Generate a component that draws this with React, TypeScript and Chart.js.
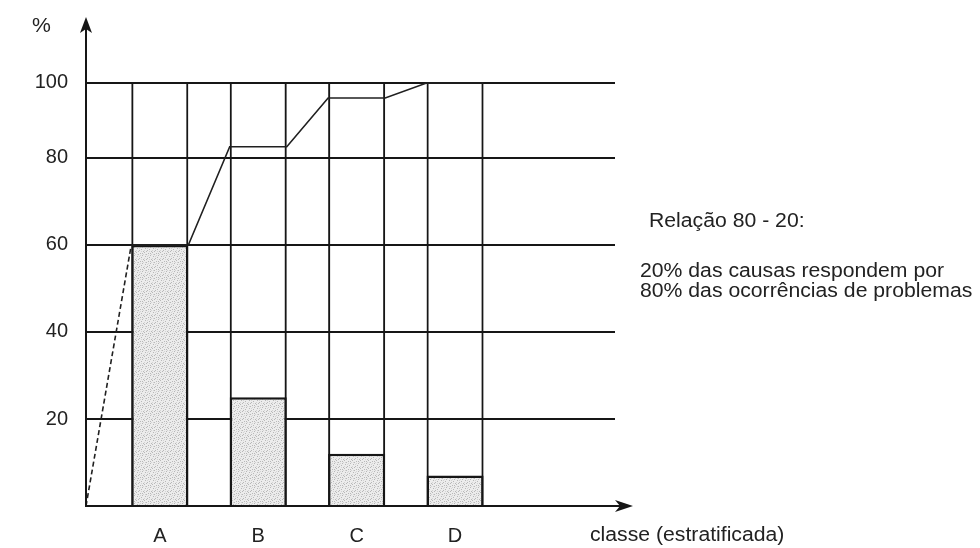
import React, { useEffect, useRef } from 'react';
import { Chart, LinearScale, registerables } from 'chart.js';

// ---- data ----
const categories = ['A', 'B', 'C', 'D'];
const shares = [60, 25, 12, 7]; // % of occurrences per class (bars)
const cumulative = [60, 83, 96, 100]; // cumulative % (Pareto line)
const frameValues = [100, 100, 100, 100]; // column frames reaching 100 %
const yTicks = [20, 40, 60, 80, 100];
const yLabels = ['20', '40', '60', '80', '100'];

const yAxisTitle = '%';
const xAxisTitle = 'classe (estratificada)';
const noteTitle = 'Relação 80 - 20:';
const noteLines = ['20% das causas respondem por', '80% das ocorrências de problemas'];

// the reference axis squeezes the 80..100 band
const BREAK = 80;
const TOP_RATIO = 75 / 87;

class ParetoScale extends LinearScale {
  static id = 'paretoLinear';
  getPixelForValue(value: number) {
    if (value === null || value === undefined) return NaN;
    const v = value <= BREAK ? value : BREAK + (value - BREAK) * TOP_RATIO;
    return super.getPixelForValue(v);
  }
}

Chart.register(...registerables, ParetoScale);

const FONT = "'Liberation Sans', Arial, sans-serif";
const INK = '#161616';
const X_MIN = 0.25;
const X_MAX = 5.625;
const BAR_FRACTION = 0.58;

function makeStipple(): CanvasPattern | string {
  const c = document.createElement('canvas');
  c.width = 8;
  c.height = 8;
  const g = c.getContext('2d');
  if (!g) return '#dedede';
  g.fillStyle = '#ececec';
  g.fillRect(0, 0, 8, 8);
  g.fillStyle = '#b8b8b8';
  const dots = [
    [1, 0], [5, 1], [3, 2], [7, 3], [0, 4], [4, 5], [2, 6], [6, 7], [6, 5], [2, 3],
  ];
  dots.forEach(([x, y]) => g.fillRect(x, y, 1, 1));
  g.fillStyle = '#d4d4d4';
  const soft = [[3, 0], [0, 2], [5, 3], [1, 6], [7, 6], [4, 7]];
  soft.forEach(([x, y]) => g.fillRect(x, y, 1, 1));
  return g.createPattern(c, 'repeat') || '#dedede';
}

const axesArrows = {
  id: 'axesArrows',
  afterDatasetsDraw(chart: any) {
    const { ctx, chartArea, scales } = chart;
    const x0 = chartArea.left;
    const y0 = scales.y.getPixelForValue(0);
    const top = chartArea.top;
    const xEnd = chartArea.right + 18;
    ctx.save();
    ctx.strokeStyle = INK;
    ctx.fillStyle = INK;
    ctx.lineWidth = 2;
    ctx.beginPath();
    ctx.moveTo(x0, y0 + 1);
    ctx.lineTo(x0, top + 10);
    ctx.moveTo(x0 - 1, y0);
    ctx.lineTo(xEnd - 10, y0);
    ctx.stroke();
    // up arrow
    ctx.beginPath();
    ctx.moveTo(x0, top);
    ctx.lineTo(x0 - 6, top + 16);
    ctx.lineTo(x0, top + 12);
    ctx.lineTo(x0 + 6, top + 16);
    ctx.closePath();
    ctx.fill();
    // right arrow
    ctx.beginPath();
    ctx.moveTo(xEnd, y0);
    ctx.lineTo(xEnd - 18, y0 - 6);
    ctx.lineTo(xEnd - 13, y0);
    ctx.lineTo(xEnd - 18, y0 + 6);
    ctx.closePath();
    ctx.fill();
    ctx.restore();
  },
};

export default function App() {
  const canvasRef = useRef<HTMLCanvasElement | null>(null);

  useEffect(() => {
    const canvas = canvasRef.current;
    if (!canvas) return;
    const stipple = makeStipple();
    const hw = BAR_FRACTION / 2;
    const linePoints: { x: number; y: number }[] = [{ x: X_MIN, y: 0 }];
    cumulative.forEach((v, i) => {
      linePoints.push({ x: i + 1 - hw, y: v });
      linePoints.push({ x: i + 1 + hw, y: v });
    });

    const chart = new Chart(canvas, {
      type: 'bar',
      data: {
        datasets: [
          {
            type: 'line',
            label: 'Acumulado',
            data: linePoints,
            borderColor: '#202020',
            borderWidth: 1.6,
            pointRadius: 0,
            tension: 0,
            fill: false,
            order: 0,
            segment: {
              borderDash: (c: any) => (c.p0DataIndex === 0 ? [5, 3] : undefined),
            },
          } as any,
          {
            type: 'bar',
            label: 'Ocorrências',
            data: categories.map((_, i) => ({ x: i + 1, y: shares[i] })),
            backgroundColor: stipple as any,
            borderColor: INK,
            borderWidth: 2.5,
            borderSkipped: 'bottom',
            grouped: false,
            categoryPercentage: 1,
            barPercentage: BAR_FRACTION,
            order: 1,
          } as any,
          {
            type: 'bar',
            label: 'Colunas',
            data: categories.map((_, i) => ({ x: i + 1, y: frameValues[i] })),
            backgroundColor: 'rgba(0,0,0,0)',
            borderColor: INK,
            borderWidth: { left: 2, right: 2, top: 0, bottom: 0 },
            borderSkipped: false,
            grouped: false,
            categoryPercentage: 1,
            barPercentage: BAR_FRACTION,
            order: 2,
          } as any,
        ],
      },
      options: {
        animation: false,
        responsive: false,
        events: [],
        layout: { padding: { left: 0, right: 365, top: 17, bottom: 0 } },
        plugins: {
          legend: { display: false },
          tooltip: { enabled: false },
        },
        scales: {
          x: {
            type: 'linear',
            offset: false,
            min: X_MIN,
            max: X_MAX,
            grid: { display: false, drawTicks: false, offset: false },
            border: { display: false },
            afterBuildTicks: (s: any) => {
              s.ticks = categories.map((_, i) => ({ value: i + 1 }));
            },
            afterFit: (s: any) => {
              s.height = 42;
              s.paddingLeft = 0;
              s.paddingRight = 0;
            },
            ticks: {
              padding: 18,
              color: '#222',
              font: { family: FONT, size: 20 },
              callback: (v: any) => categories[Number(v) - 1] ?? '',
            },
          },
          y: {
            type: 'paretoLinear' as any,
            min: 0,
            max: 112.4,
            grid: { color: INK, lineWidth: 2, drawTicks: false },
            border: { display: false },
            afterBuildTicks: (s: any) => {
              s.ticks = yTicks.map((v) => ({ value: v }));
            },
            afterFit: (s: any) => {
              s.width = 86;
              s.paddingTop = 0;
              s.paddingBottom = 0;
            },
            ticks: {
              padding: 18,
              color: '#222',
              font: { family: FONT, size: 20 },
              callback: (v: any) => yLabels[yTicks.indexOf(Number(v))] ?? '',
            },
          } as any,
        },
      },
      plugins: [axesArrows],
    });
    return () => chart.destroy();
  }, []);

  const textStyle: React.CSSProperties = {
    position: 'absolute',
    fontFamily: FONT,
    fontSize: 20,
    lineHeight: '20px',
    color: '#222',
    whiteSpace: 'nowrap',
    margin: 0,
    transformOrigin: 'left center',
    transform: 'scaleX(1.06)',
  };

  return (
    <div style={{ position: 'absolute', left: 0, top: 0, width: 980, height: 548, background: '#fff' }}>
      <canvas ref={canvasRef} width={980} height={548} style={{ display: 'block', width: 980, height: 548 }} />
      <div style={{ ...textStyle, left: 32, top: 15 }}>{yAxisTitle}</div>
      <div style={{ ...textStyle, left: 590, top: 524 }}>{xAxisTitle}</div>
      <div style={{ ...textStyle, left: 649, top: 210 }}>{noteTitle}</div>
      <div style={{ ...textStyle, left: 640, top: 260 }}>{noteLines[0]}</div>
      <div style={{ ...textStyle, left: 640, top: 280 }}>{noteLines[1]}</div>
    </div>
  );
}
